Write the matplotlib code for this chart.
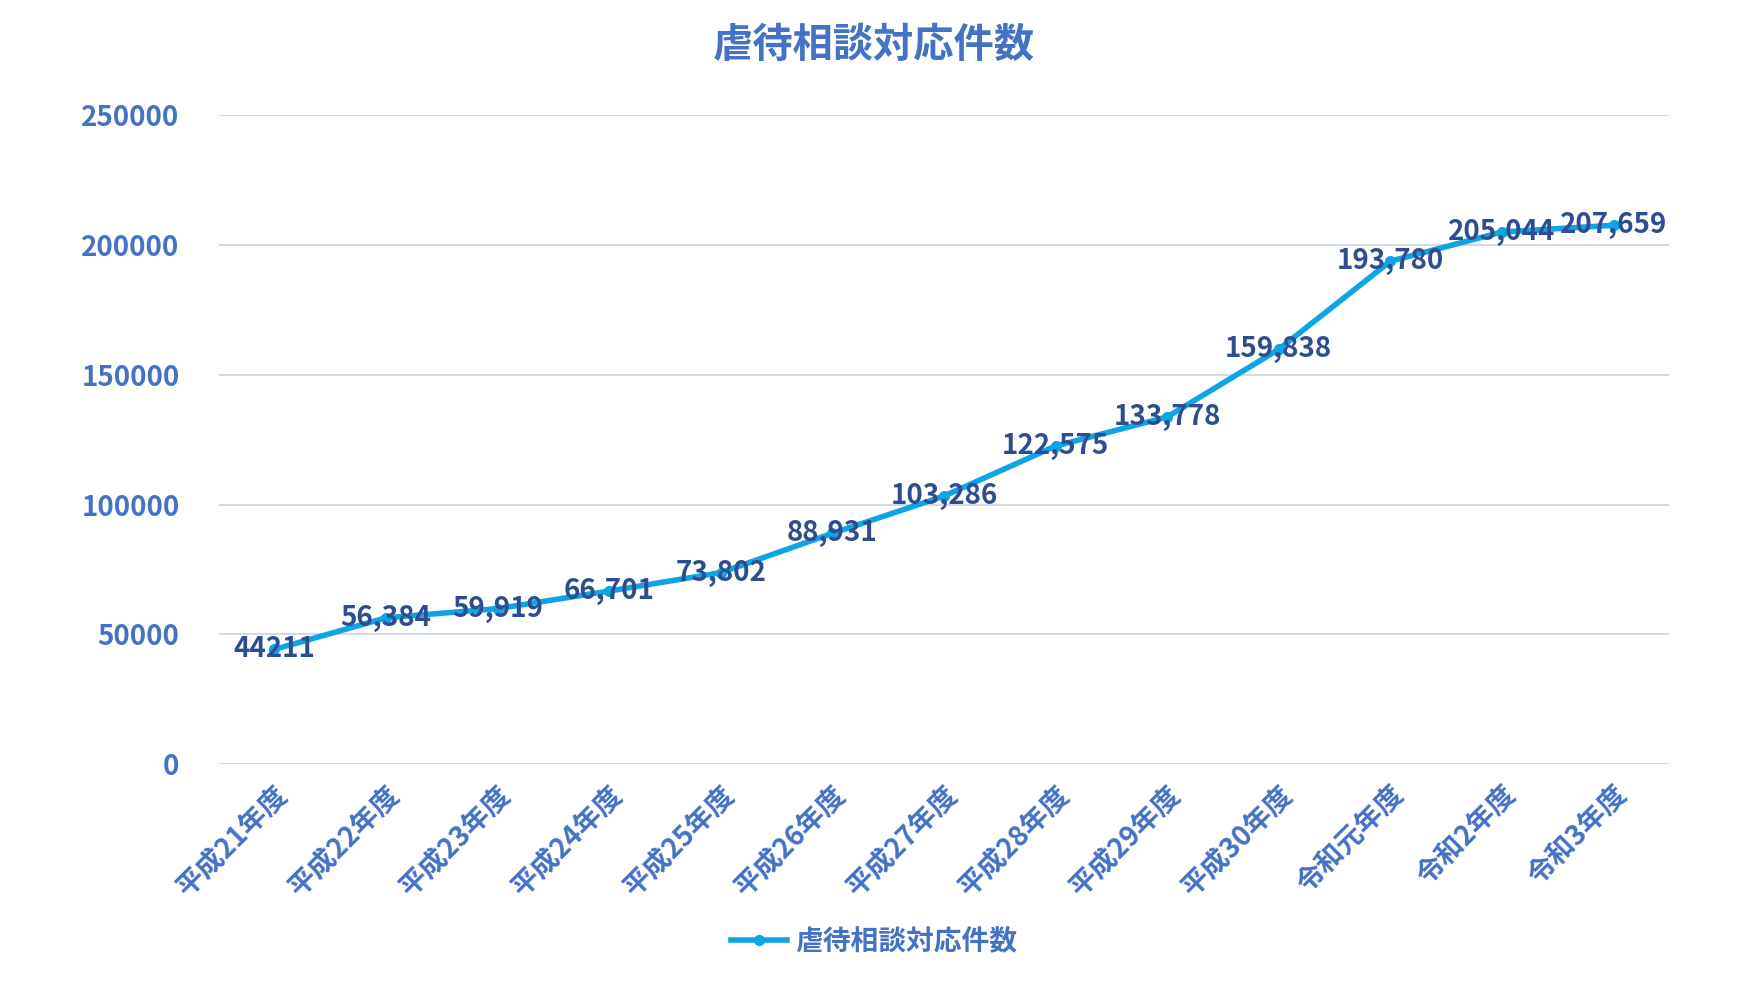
import matplotlib
matplotlib.use("Agg")
import matplotlib.pyplot as plt

plt.rcParams['font.family'] = ['Noto Sans CJK JP', 'DejaVu Sans']

categories = ["平成21年度","平成22年度","平成23年度","平成24年度","平成25年度","平成26年度",
              "平成27年度","平成28年度","平成29年度","平成30年度","令和元年度","令和2年度","令和3年度"]
values = [44211, 56384, 59919, 66701, 73802, 88931, 103286, 122575, 133778, 159838, 193780, 205044, 207659]
labels = ["44211","56,384","59,919","66,701","73,802","88,931","103,286","122,575","133,778",
          "159,838","193,780","205,044","207,659"]
yticks = [0, 50000, 100000, 150000, 200000, 250000]

blue = "#4472C4"
fig = plt.figure(figsize=(17.48, 9.86), dpi=100)
ax = fig.add_axes([0.125, 0.225, 0.83, 0.658])
x = list(range(len(categories)))
ax.plot(x, values, color="#0EA5E4", lw=4, marker="o", ms=7, label="虐待相談対応件数", zorder=3)
for xi, v, l in zip(x, values, labels):
    ax.text(xi, v, l, ha="center", va="center", fontsize=20, fontweight="bold",
            color="#2E4D8F", zorder=4)
ax.set_xlim(-0.5, len(categories) - 0.5)
ax.set_ylim(0, 250000)
ax.set_yticks(yticks)
ax.set_yticklabels([str(t) for t in yticks], fontsize=20, fontweight="bold", color=blue)
ax.set_xticks(x)
ax.set_xticklabels(categories, rotation=45, ha="right", rotation_mode="anchor",
                   fontsize=20, fontweight="bold", color=blue)
ax.grid(axis="y", color="#C9D3E6", lw=1.2)
ax.set_axisbelow(True)
for s in ax.spines.values():
    s.set_visible(False)
ax.tick_params(length=0, pad=28)
ax.tick_params(axis="x", pad=12)
fig.suptitle("虐待相談対応件数", y=0.975, fontsize=29, fontweight="bold", color=blue)
fig.legend(loc="lower center", bbox_to_anchor=(0.5, 0.005), frameon=False,
           prop={'size': 20, 'weight': 'bold'}, labelcolor=blue, handlelength=2, handletextpad=0.3)
fig.savefig("out.png", dpi=100)
